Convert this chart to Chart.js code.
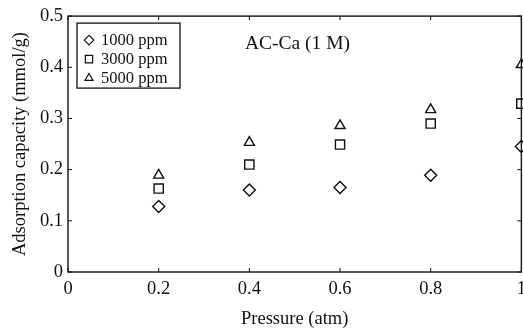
<!DOCTYPE html>
<html>
<head>
<meta charset="utf-8">
<script src="https://cdn.jsdelivr.net/npm/chart.js@4/dist/chart.umd.min.js"></script>
<style>
html,body{margin:0;padding:0;background:#fff;overflow:hidden;width:523px;height:334px;}
#wrap{position:absolute;left:0;top:0;width:532px;height:334px;}
</style>
</head>
<body>
<div id="wrap"><canvas id="c" width="532" height="334"></canvas></div>
<script>
const pressure = [0.2, 0.4, 0.6, 0.8, 1.0];
const ppm1000 = [0.128, 0.160, 0.165, 0.189, 0.245];
const ppm3000 = [0.163, 0.210, 0.249, 0.290, 0.329];
const ppm5000 = [0.189, 0.253, 0.286, 0.317, 0.405];
const seriesNames = ['1000 ppm', '3000 ppm', '5000 ppm'];
const xTicks = [0, 0.2, 0.4, 0.6, 0.8, 1];
const yTicks = [0, 0.1, 0.2, 0.3, 0.4, 0.5];
const titleText = 'AC-Ca (1 M)';
const xLabel = 'Pressure (atm)';
const yLabel = 'Adsorption capacity (mmol/g)';

const FONT = '"Liberation Serif", "DejaVu Serif", serif';
const toPts = (vals) => pressure.map((p, i) => ({x: p, y: vals[i]}));

const styles = [
  {pointStyle: 'rectRot', pointRadius: 6},
  {pointStyle: 'rect', pointRadius: 6.5},
  {pointStyle: 'triangle', pointRadius: 5.8}
];
const series = [ppm1000, ppm3000, ppm5000];

const datasets = series.map((s, i) => ({
  label: seriesNames[i],
  data: toPts(s),
  showLine: false,
  pointStyle: styles[i].pointStyle,
  pointRadius: styles[i].pointRadius,
  pointHoverRadius: styles[i].pointRadius,
  pointBackgroundColor: '#fff',
  pointBorderColor: '#111',
  pointBorderWidth: 1.4,
  clip: false
}));

const decor = {
  id: 'decor',
  afterDraw(chart) {
    const ctx = chart.ctx;
    const a = chart.chartArea;
    const xs = chart.scales.x, ys = chart.scales.y;
    ctx.save();
    ctx.strokeStyle = '#111';
    ctx.lineWidth = 1.4;
    ctx.strokeRect(a.left, a.top, a.right - a.left, a.bottom - a.top);
    ctx.lineWidth = 1;
    xTicks.forEach(v => {
      const px = xs.getPixelForValue(v);
      ctx.beginPath(); ctx.moveTo(px, a.bottom); ctx.lineTo(px, a.bottom - 4); ctx.stroke();
      ctx.beginPath(); ctx.moveTo(px, a.top); ctx.lineTo(px, a.top + 4); ctx.stroke();
    });
    yTicks.forEach(v => {
      const py = ys.getPixelForValue(v);
      ctx.beginPath(); ctx.moveTo(a.left, py); ctx.lineTo(a.left + 4, py); ctx.stroke();
      ctx.beginPath(); ctx.moveTo(a.right, py); ctx.lineTo(a.right - 4, py); ctx.stroke();
    });
    ctx.fillStyle = '#111';
    ctx.font = '19.5px ' + FONT;
    ctx.textAlign = 'left';
    ctx.textBaseline = 'middle';
    ctx.fillText(titleText, a.left + 177, a.top + 28);
    // legend box
    const lx = a.left + 9, ly = a.top + 7, lw = 103, lh = 65;
    ctx.lineWidth = 1.3;
    ctx.strokeRect(lx, ly, lw, lh);
    ctx.font = '16.5px ' + FONT;
    chart.data.datasets.forEach((ds, i) => {
      const cy = ly + 17 + i * 19;
      ctx.fillStyle = '#fff';
      ctx.strokeStyle = '#111';
      ctx.lineWidth = 1.2;
      Chart.helpers.drawPoint(ctx, {
        pointStyle: ds.pointStyle,
        radius: ds.pointRadius * 0.8,
        rotation: 0,
        borderWidth: 1.2
      }, lx + 12, cy);
      ctx.fillStyle = '#111';
      ctx.fillText(ds.label, lx + 24, cy + 1);
    });
    ctx.restore();
  }
};

new Chart(document.getElementById('c'), {
  type: 'scatter',
  data: {datasets},
  options: {
    responsive: false,
    animation: false,
    events: [],
    layout: {padding: {left: 5, top: 15, right: 7, bottom: 0}},
    plugins: {legend: {display: false}, tooltip: {enabled: false}},
    scales: {
      x: {
        type: 'linear', min: 0, max: 1,
        afterBuildTicks(s) { s.ticks = xTicks.map(v => ({value: v})); },
        afterFit(s) { s.height = 62; },
        grid: {display: false, drawTicks: false},
        border: {display: false},
        ticks: {
          color: '#111', padding: 6,
          font: {family: FONT, size: 18.5},
          callback: v => String(v)
        },
        title: {display: true, text: xLabel, color: '#111', font: {family: FONT, size: 18.5}, padding: {top: 15}}
      },
      y: {
        type: 'linear', min: 0, max: 0.5,
        afterBuildTicks(s) { s.ticks = yTicks.map(v => ({value: v})); },
        afterFit(s) { s.width = 63; },
        grid: {display: false, drawTicks: false},
        border: {display: false},
        ticks: {
          color: '#111', padding: 5,
          font: {family: FONT, size: 18.5},
          callback: v => String(Math.round(v * 10) / 10)
        },
        title: {display: true, text: yLabel, color: '#111', font: {family: FONT, size: 18.5}, padding: {bottom: 4}}
      }
    }
  },
  plugins: [decor]
});
</script>
</body>
</html>
